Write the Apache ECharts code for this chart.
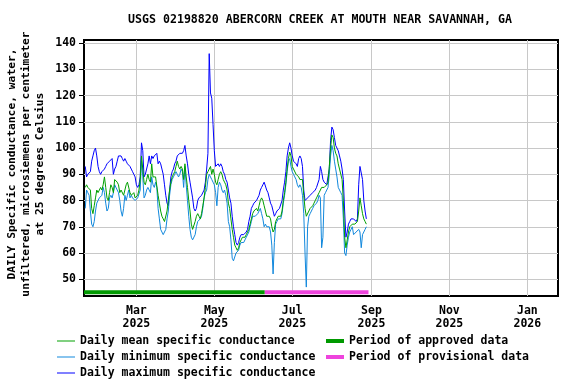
<!DOCTYPE html>
<html><head><meta charset="utf-8">
<script src="https://cdn.jsdelivr.net/npm/echarts@6/dist/echarts.min.js"></script>
<style>html,body{margin:0;padding:0;background:#fff}#c{width:576px;height:384px}</style>
</head><body><div id="c"></div>
<script>
const chartTitle = 'USGS 02198820 ABERCORN CREEK AT MOUTH NEAR SAVANNAH, GA';
const yTitleLines = ['DAILY Specific conductance, water,', 'unfiltered, microsiemens per centimeter', 'at 25 degrees Celsius'];
const firstDay = '2025-01-20';
const dailyMax = [
  93, 89, 90, 90, 91, 95, 97, 99, 100, 97,
  93, 91, 90, 91, 91, 92, 93, 94, 94, 95,
  95, 96, 90, 92, 93, 95, 97, 97, 97, 96,
  95, 96, 95, 94, 94, 93, 92, 91, 90, 89,
  86, 85, 86, 89, 102, 99, 89, 90, 92, 94,
  97, 94, 97, 96, 97, 97, 98, 94, 95, 94,
  92, 90, 86, 82, 79, 78, 84, 89, 91, 92,
  94, 95, 97, 97, 98, 98, 98, 99, 101, 97,
  94, 90, 87, 84, 81, 77, 76, 77, 80, 81,
  81, 82, 82, 84, 87, 92, 98, 136, 121, 119,
  109, 99, 93, 93, 94, 93, 94, 93, 91, 90,
  88, 87, 84, 81, 79, 74, 70, 67, 64, 63,
  64, 66, 67, 67, 67, 67, 68, 69, 72, 74,
  77, 78, 79, 79, 80, 80, 82, 84, 85, 86,
  87, 87, 84, 83, 81, 79, 78, 76, 74, 75,
  76, 76, 77, 77, 80, 84, 87, 91, 97, 100,
  102, 100, 97, 95, 95, 94, 93, 96, 97, 96,
  93, 84, 80, 80, 81, 81, 82, 82, 83, 83,
  84, 85, 85, 88, 93, 91, 88, 87, 87, 86,
  86, 92, 103, 108, 107, 104, 101, 100, 99, 97,
  95, 92, 88, 76, 66, 68, 71, 72, 73, 73,
  73, 73, 72, 73, 86, 93, 93, 88, 80, 76, 73
];
const dailyMean = [
  85, 86, 85, 85, 84, 77, 75, 78, 81, 84,
  83, 84, 85, 84, 86, 89, 85, 81, 80, 83,
  86, 85, 83, 88, 88, 87, 86, 83, 84, 84,
  82, 84, 86, 87, 87, 83, 82, 82, 83, 81,
  81, 82, 84, 88, 97, 92, 87, 86, 88, 90,
  88, 87, 94, 89, 89, 89, 89, 82, 79, 76,
  74, 73, 72, 72, 76, 80, 84, 87, 89, 90,
  91, 93, 95, 93, 92, 93, 92, 88, 94, 89,
  85, 80, 76, 71, 69, 69, 72, 74, 75, 74,
  73, 75, 78, 81, 85, 90, 91, 92, 93, 90,
  92, 90, 87, 86, 88, 90, 91, 90, 88, 87,
  86, 84, 79, 77, 73, 69, 66, 63, 62, 61,
  62, 64, 65, 66, 66, 66, 67, 67, 69, 71,
  73, 75, 76, 76, 77, 76, 78, 80, 81, 80,
  78, 76, 74, 74, 74, 73, 70, 68, 69, 72,
  73, 74, 74, 74, 76, 80, 83, 87, 92, 96,
  98.5, 97, 93, 92, 92, 90, 90, 89, 88, 88,
  88, 82, 77, 74, 74, 76, 77, 77, 78, 79,
  80, 81, 81, 83, 84, 85, 85, 85, 85, 86,
  87, 93, 100, 105, 104, 100, 98, 97, 94, 92,
  90, 88, 80, 66, 62, 65, 68, 70, 70, 71,
  71, 71, 71, 72, 76, 81, 78, 75, 73, 72, 71
];
const dailyMin = [
  77, 84, 83, 82, 76, 71, 70, 72, 76, 79,
  80, 81, 81, 82, 85, 83, 79, 76, 77, 81,
  82, 81, 83, 86, 86, 84, 83, 80, 76, 74,
  77, 82, 80, 82, 84, 81, 82, 81, 81, 80,
  80, 81, 81, 84, 95, 89, 81, 82, 84, 85,
  84, 83, 89, 86, 85, 87, 85, 77, 73, 69,
  68, 67, 67, 69, 73, 76, 82, 86, 88, 89,
  90, 91, 90, 89, 90, 92, 91, 85, 93, 86,
  80, 74, 69, 66, 65, 65, 67, 70, 72, 72,
  73, 74, 77, 81, 83, 84, 88, 90, 89, 88,
  87, 86, 83, 78, 85, 87, 86, 84, 83, 84,
  82, 79, 72, 70, 65, 58, 57, 57, 60, 60,
  61, 63, 64, 64, 64, 65, 66, 66, 68, 70,
  72, 74, 74, 74, 74, 75, 76, 77, 75, 73,
  70, 71, 70, 70, 70, 68, 63, 52, 64, 71,
  72, 73, 73, 73, 75, 79, 82, 86, 91, 95,
  96, 93, 91, 90, 89, 88, 86, 85, 86, 85,
  82, 75, 60, 47, 70, 74, 75, 76, 77, 78,
  78, 79, 80, 82, 81, 62, 66, 82, 83, 84,
  85, 90, 97, 101, 99, 95, 92, 89, 85, 84,
  83, 82, 73, 60, 59, 63, 66, 68, 69, 70,
  67, 67, 68, 68, 69, 68, 62, 67, 68, 69, 70
];
const approvedPeriod = ['2025-01-19T00:00:00Z', '2025-06-09T12:00:00Z'];
const provisionalPeriod = ['2025-06-09T12:00:00Z', '2025-08-29T16:00:00Z'];
const periodLevel = 45;
const xTickDates = ['2025-03-01', '2025-05-01', '2025-07-01', '2025-09-01', '2025-11-01', '2026-01-01'];
const yTicks = [50, 60, 70, 80, 90, 100, 110, 120, 130, 140];
const xRange = ['2025-01-19', '2026-01-25'];
const yRange = [43.6, 141.2];
const monthNames = ['Jan','Feb','Mar','Apr','May','Jun','Jul','Aug','Sep','Oct','Nov','Dec'];
const names = {
  mean: 'Daily mean specific conductance',
  min: 'Daily minimum specific conductance',
  max: 'Daily maximum specific conductance',
  appr: 'Period of approved data',
  prov: 'Period of provisional data'
};

const FONT = '"DejaVu Sans Mono", monospace';
const DAY = 86400000;
const t0 = Date.parse(firstDay);
const toPts = arr => arr.map((v, i) => [t0 + i * DAY, v]);
const periodPts = p => p.map(d => [Date.parse(d), periodLevel]);

function lineSeries(name, values, color, z) {
  return {
    name, type: 'line', data: toPts(values), showSymbol: false, symbol: 'none',
    lineStyle: { color, width: 1 }, itemStyle: { color }, z, silent: true
  };
}
function periodSeries(name, period, color) {
  return {
    name, type: 'line', data: periodPts(period), showSymbol: false, symbol: 'none',
    lineStyle: { color, width: 4, cap: 'butt' }, itemStyle: { color }, z: 5, silent: true
  };
}

const chart = echarts.init(document.getElementById('c'), null, { renderer: 'canvas' });
const labelStyle = { fontFamily: FONT, fontWeight: 'bold', fontSize: 11.5, color: '#000' };
chart.setOption({
  animation: false,
  backgroundColor: '#fff',
  grid: { left: 84, right: 18, top: 40, bottom: 88, show: true, borderColor: '#000', borderWidth: 2, backgroundColor: 'transparent' },
  xAxis: {
    type: 'value', min: Date.parse(xRange[0]), max: Date.parse(xRange[1]),
    axisLine: { show: false },
    axisTick: { show: false, customValues: xTickDates.map(d => Date.parse(d)) },
    axisLabel: Object.assign({}, labelStyle, {
      customValues: xTickDates.map(d => Date.parse(d)), margin: 9, lineHeight: 12.5,
      formatter: v => { const d = new Date(v); return monthNames[d.getUTCMonth()] + '\n' + d.getUTCFullYear(); }
    }),
    splitLine: { show: true, lineStyle: { color: '#c8c8c8', width: 1 } }
  },
  yAxis: {
    type: 'value', min: yRange[0], max: yRange[1],
    axisLine: { show: false },
    axisTick: { show: true, length: 5, customValues: yTicks, lineStyle: { color: '#000', width: 1 } },
    axisLabel: Object.assign({}, labelStyle, { customValues: yTicks, margin: 8 }),
    splitLine: { show: true, lineStyle: { color: '#c8c8c8', width: 1 } }
  },
  legend: [
    { orient: 'vertical', left: 57, top: 334, padding: 0, itemGap: 2, itemWidth: 18, itemHeight: 1, icon: 'rect',
      selectedMode: false, data: [names.mean, names.min, names.max],
      textStyle: Object.assign({}, labelStyle, { lineHeight: 14 }) },
    { orient: 'vertical', left: 326, top: 334, padding: 0, itemGap: 2, itemWidth: 18, itemHeight: 4, icon: 'rect',
      selectedMode: false, data: [names.appr, names.prov],
      textStyle: Object.assign({}, labelStyle, { lineHeight: 14 }) }
  ],
  graphic: [
    { type: 'text', x: 320, y: 20, silent: true,
      style: { text: chartTitle, font: 'bold 11.6px ' + FONT, fill: '#000', align: 'center', verticalAlign: 'middle' } },
    { type: 'text', x: 26.5, y: 164, rotation: Math.PI / 2, silent: true,
      style: { text: yTitleLines.join('\n'), font: 'bold 11.3px ' + FONT, lineHeight: 14, fill: '#000', align: 'center', verticalAlign: 'middle' } }
  ],
  series: [
    lineSeries(names.max, dailyMax, '#0000ff', 2),
    lineSeries(names.min, dailyMin, '#1188dd', 3),
    lineSeries(names.mean, dailyMean, '#00a000', 4),
    periodSeries(names.appr, approvedPeriod, '#009900'),
    periodSeries(names.prov, provisionalPeriod, '#ee44dd')
  ]
});
</script>
</body></html>
